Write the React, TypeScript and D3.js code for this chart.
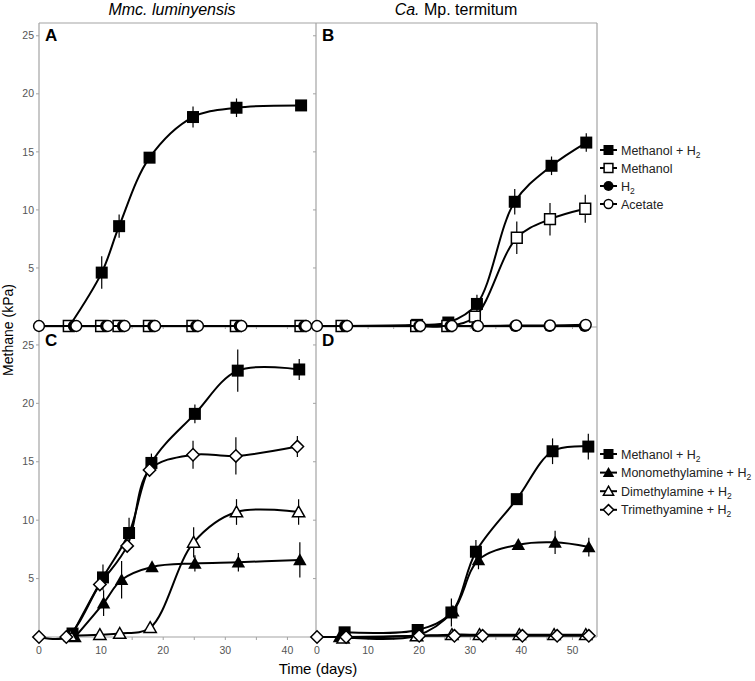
import React, { useEffect, useRef } from "react";
import * as d3 from "d3";

// ---- Panel A: Mmc. luminyensis (methanol / H2 / acetate) ----
const aMethH2Days = [4.9, 10.1, 12.9, 17.8, 24.8, 31.8, 42.2];
const aMethH2 = [0, 4.6, 8.6, 14.5, 18.0, 18.8, 19.0];
const aMethH2Err = [0, 1.4, 1.0, 0.3, 0.9, 0.8, 0.2];
const aMethDays = [4.8, 10.0, 12.8, 17.7, 24.7, 31.7, 42.1];
const aMeth = [0, 0, 0, 0, 0, 0, 0];
const aH2Days = [5.6, 10.8, 13.5, 18.4, 25.3, 32.3, 42.7];
const aH2 = [0, 0, 0, 0, 0, 0, 0];
const aAcetDays = [0, 6.0, 11.1, 13.8, 18.7, 25.6, 32.6, 43.0];
const aAcet = [0, 0, 0, 0, 0, 0, 0, 0];

// ---- Panel B: Ca. Mp. termitum (methanol / H2 / acetate) ----
const bMethH2Days = [5.0, 19.6, 25.7, 31.3, 38.7, 45.9, 52.7];
const bMethH2 = [0, 0.1, 0.3, 1.9, 10.7, 13.8, 15.8];
const bMethH2Err = [0, 0, 0, 0.8, 1.1, 0.8, 0.8];
const bMethDays = [4.8, 19.4, 25.5, 30.9, 39.1, 45.6, 52.5];
const bMeth = [0, 0, 0, 0.8, 7.6, 9.2, 10.1];
const bMethErr = [0, 0, 0, 0.2, 1.4, 1.4, 1.2];
const bH2Days = [5.5, 20.0, 26.1, 31.3, 38.8, 45.5, 52.4];
const bH2 = [0, 0, 0, 0, 0, 0, 0];
const bAcetDays = [0, 5.9, 20.2, 26.4, 31.5, 39.0, 45.6, 52.6];
const bAcet = [0, 0, 0, 0, 0, 0.05, 0.05, 0.1];

// ---- Panel C: Mmc. luminyensis (methylamines) ----
const cMethH2Days = [5.4, 10.3, 14.5, 18.1, 25.1, 32.0, 41.9];
const cMethH2 = [0.3, 5.1, 8.9, 14.9, 19.1, 22.8, 22.9];
const cMethH2Err = [0, 1.1, 1.3, 0.8, 0.8, 1.8, 0.9];
const cMonoDays = [5.8, 10.4, 13.3, 18.2, 25.1, 32.1, 42.0];
const cMono = [0, 2.9, 4.9, 6.0, 6.3, 6.4, 6.6];
const cMonoErr = [0, 1.1, 1.6, 0.4, 0.7, 0.8, 1.5];
const cDiDays = [5.1, 9.8, 13.0, 17.9, 24.9, 31.8, 41.8];
const cDi = [0.1, 0.2, 0.3, 0.8, 8.1, 10.7, 10.7];
const cDiErr = [0, 0, 0, 0, 1.3, 1.1, 1.1];
const cTriDays = [0, 4.4, 9.8, 14.2, 17.8, 24.8, 31.7, 41.6];
const cTri = [0, 0, 4.5, 7.8, 14.3, 15.6, 15.5, 16.3];
const cTriErr = [0, 0, 0.3, 0.3, 0.3, 1.2, 1.6, 0.9];

// ---- Panel D: Ca. Mp. termitum (methylamines) ----
const dMethH2Days = [5.4, 19.7, 26.3, 31.1, 39.1, 46.1, 53.1];
const dMethH2 = [0.4, 0.6, 2.1, 7.3, 11.8, 15.9, 16.3];
const dMethH2Err = [0, 0, 1.2, 1.0, 0.4, 1.1, 1.1];
const dMonoDays = [4.4, 19.4, 26.6, 31.6, 39.4, 46.6, 53.2];
const dMono = [0, 0.1, 2.2, 6.6, 7.9, 8.1, 7.7];
const dMonoErr = [0, 0, 0.3, 0.8, 0.3, 1.0, 0.8];
const dDiDays = [5.1, 19.5, 26.4, 31.8, 39.6, 46.4, 52.6];
const dDi = [-0.1, 0.1, 0.2, 0.2, 0.2, 0.2, 0.2];
const dTriDays = [0, 5.7, 20.0, 26.9, 32.4, 40.2, 47.0, 53.2];
const dTri = [0, 0, 0.1, 0.1, 0.1, 0.1, 0.1, 0.1];

const yTicks = [5, 10, 15, 20, 25];
const xTicksLeft = [0, 10, 20, 30, 40];
const xTicksRight = [0, 10, 20, 30, 40, 50];

const legendTop = [
  { label: "Methanol", sub: "H", marker: "sqFill", plus: true },
  { label: "Methanol", sub: null, marker: "sqOpen", plus: false },
  { label: "", sub: "H", marker: "circFill", plus: false },
  { label: "Acetate", sub: null, marker: "circOpen", plus: false },
];
const legendBottom = [
  { label: "Methanol", sub: "H", marker: "sqFill", plus: true },
  { label: "Monomethylamine", sub: "H", marker: "triFill", plus: true },
  { label: "Dimethylamine", sub: "H", marker: "triOpen", plus: true },
  { label: "Trimethyamine", sub: "H", marker: "diaOpen", plus: true },
];

const W = 755;
const H = 681;
const GRAY = "#a3a3a3";
const FONT = "Liberation Sans, Arial, sans-serif";

type Series = { days: number[]; values: number[]; err?: number[]; marker: string };

const drawMarker = (g: any, type: string, x: number, y: number, s: number) => {
  const open = type.endsWith("Open");
  const fill = open ? "white" : "black";
  const sw = open ? 1.5 : 0;
  const h = open ? s / 2 - 0.6 : s / 2;
  let d = "";
  if (type.startsWith("sq")) d = `M${-h},${-h}H${h}V${h}H${-h}Z`;
  else if (type.startsWith("dia")) d = `M0,${-h - 0.8}L${h + 0.8},0L0,${h + 0.8}L${-h - 0.8},0Z`;
  else if (type.startsWith("tri")) {
    const r = h + 0.6;
    d = `M0,${-r}L${r * 1.02},${r * 0.8}L${-r * 1.02},${r * 0.8}Z`;
  }
  if (type.startsWith("circ")) {
    g.append("circle")
      .attr("cx", x)
      .attr("cy", y)
      .attr("r", h)
      .attr("fill", fill)
      .attr("stroke", "black")
      .attr("stroke-width", sw);
  } else {
    g.append("path")
      .attr("transform", `translate(${x},${y})`)
      .attr("d", d)
      .attr("fill", fill)
      .attr("stroke", "black")
      .attr("stroke-width", sw)
      .attr("stroke-linejoin", "miter");
  }
};

const App = () => {
  const svgRef = useRef<SVGSVGElement>(null);

  useEffect(() => {
    if (!svgRef.current) return;
    const svg = d3.select(svgRef.current);
    svg.selectAll("*").remove();

    const xLeft = d3.scaleLinear().domain([0, 44.6]).range([39, 316]);
    const xRight = d3.scaleLinear().domain([-0.2, 54.8]).range([316, 597]);
    const yTop = d3.scaleLinear().domain([0, 26.1]).range([326, 23]);
    const yBottom = d3.scaleLinear().domain([0, 26.45]).range([637, 328]);

    const panels = [
      {
        letter: "A", x: xLeft, y: yTop, xTicks: xTicksLeft, labels: false,
        series: [
          { days: aMethH2Days, values: aMethH2, err: aMethH2Err, marker: "sqFill" },
          { days: aMethDays, values: aMeth, marker: "sqOpen" },
          { days: aH2Days, values: aH2, marker: "circFill" },
          { days: aAcetDays, values: aAcet, marker: "circOpen" },
        ] as Series[],
      },
      {
        letter: "B", x: xRight, y: yTop, xTicks: xTicksRight, labels: false,
        series: [
          { days: bMethH2Days, values: bMethH2, err: bMethH2Err, marker: "sqFill" },
          { days: bMethDays, values: bMeth, err: bMethErr, marker: "sqOpen" },
          { days: bH2Days, values: bH2, marker: "circFill" },
          { days: bAcetDays, values: bAcet, marker: "circOpen" },
        ] as Series[],
      },
      {
        letter: "C", x: xLeft, y: yBottom, xTicks: xTicksLeft, labels: true,
        series: [
          { days: cMethH2Days, values: cMethH2, err: cMethH2Err, marker: "sqFill" },
          { days: cMonoDays, values: cMono, err: cMonoErr, marker: "triFill" },
          { days: cDiDays, values: cDi, err: cDiErr, marker: "triOpen" },
          { days: cTriDays, values: cTri, err: cTriErr, marker: "diaOpen" },
        ] as Series[],
      },
      {
        letter: "D", x: xRight, y: yBottom, xTicks: xTicksRight, labels: true,
        series: [
          { days: dMethH2Days, values: dMethH2, err: dMethH2Err, marker: "sqFill" },
          { days: dMonoDays, values: dMono, err: dMonoErr, marker: "triFill" },
          { days: dDiDays, values: dDi, marker: "triOpen" },
          { days: dTriDays, values: dTri, marker: "diaOpen" },
        ] as Series[],
      },
    ];

    // frame lines
    const frame = svg.append("g").attr("stroke", GRAY).attr("stroke-width", 1.2);
    frame.append("line").attr("x1", 39).attr("x2", 597).attr("y1", 23).attr("y2", 23);
    frame.append("line").attr("x1", 39).attr("x2", 597).attr("y1", 327).attr("y2", 327);
    frame.append("line").attr("x1", 39).attr("x2", 597).attr("y1", 637).attr("y2", 637);
    [39, 316, 597].forEach((x) =>
      frame.append("line").attr("x1", x).attr("x2", x).attr("y1", 23).attr("y2", 637),
    );

    panels.forEach((p) => {
      const g = svg.append("g");
      const [px0] = p.x.range();
      const [py0] = p.y.range();

      // y ticks
      yTicks.forEach((t) => {
        g.append("line")
          .attr("x1", px0 - 3)
          .attr("x2", px0)
          .attr("y1", p.y(t))
          .attr("y2", p.y(t))
          .attr("stroke", GRAY);
        if (px0 < 100) {
          g.append("text")
            .attr("x", px0 - 5)
            .attr("y", p.y(t))
            .attr("dy", "0.35em")
            .attr("text-anchor", "end")
            .style("font-family", FONT)
            .style("font-size", "10.5px")
            .style("fill", "#555")
            .text(t);
        }
      });

      // x ticks every 5 days
      d3.range(0, p.x.domain()[1], 5).forEach((t) => {
        g.append("line")
          .attr("x1", p.x(t))
          .attr("x2", p.x(t))
          .attr("y1", py0)
          .attr("y2", py0 + 3)
          .attr("stroke", GRAY);
      });
      if (p.labels) {
        p.xTicks.forEach((t) => {
          g.append("text")
            .attr("x", p.x(t))
            .attr("y", py0 + 17)
            .attr("text-anchor", "middle")
            .style("font-family", FONT)
            .style("font-size", "10.5px")
            .style("fill", "#555")
            .text(t);
        });
      }

      // panel letter
      g.append("text")
        .attr("x", px0 + 6)
        .attr("y", p.y.range()[1] + 18)
        .style("font-family", FONT)
        .style("font-size", "17px")
        .style("font-weight", "bold")
        .text(p.letter);

      // series
      p.series.forEach((s) => {
        const pts = s.days.map((d, i) => ({ d, v: s.values[i], e: s.err ? s.err[i] : 0 }));
        const line = d3
          .line<{ d: number; v: number }>()
          .x((d) => p.x(d.d))
          .y((d) => p.y(d.v))
          .curve(d3.curveCatmullRom.alpha(0.5));
        g.append("path")
          .datum(pts)
          .attr("fill", "none")
          .attr("stroke", "black")
          .attr("stroke-width", 2)
          .attr("d", line);
        pts.forEach((pt) => {
          if (pt.e > 0) {
            g.append("line")
              .attr("x1", p.x(pt.d))
              .attr("x2", p.x(pt.d))
              .attr("y1", p.y(pt.v - pt.e))
              .attr("y2", p.y(pt.v + pt.e))
              .attr("stroke", "black")
              .attr("stroke-width", 1.2);
          }
        });
        pts.forEach((pt) => drawMarker(g, s.marker, p.x(pt.d), p.y(pt.v), 12));
      });
    });

    // legends
    const drawLegend = (items: typeof legendTop, y0: number, step: number) => {
      items.forEach((it, i) => {
        const y = y0 + i * step;
        const g = svg.append("g");
        g.append("line")
          .attr("x1", 600)
          .attr("x2", 617)
          .attr("y1", y)
          .attr("y2", y)
          .attr("stroke", "black")
          .attr("stroke-width", 2);
        drawMarker(g, it.marker, 608.5, y, 10);
        const t = g
          .append("text")
          .attr("x", 621)
          .attr("y", y + 4.5)
          .style("font-family", FONT)
          .style("font-size", "12.5px")
          .style("fill", "#222");
        if (it.label) t.append("tspan").text(it.label + (it.plus ? " + " : ""));
        if (it.sub) {
          t.append("tspan").text(it.sub);
          t.append("tspan").attr("dy", 3).style("font-size", "8.5px").text("2");
        }
      });
    };
    drawLegend(legendTop, 150, 18);
    drawLegend(legendBottom, 454, 18.6);

    // titles
    svg.append("text")
      .attr("x", 172)
      .attr("y", 15)
      .attr("text-anchor", "middle")
      .style("font-family", FONT)
      .style("font-size", "16px")
      .style("font-style", "italic")
      .text("Mmc. luminyensis");
    const t2 = svg.append("text")
      .attr("x", 456)
      .attr("y", 15)
      .attr("text-anchor", "middle")
      .style("font-family", FONT)
      .style("font-size", "16px");
    t2.append("tspan").style("font-style", "italic").text("Ca.");
    t2.append("tspan").text(" Mp. termitum");

    svg.append("text")
      .attr("transform", `translate(13,330) rotate(-90)`)
      .attr("text-anchor", "middle")
      .style("font-family", FONT)
      .style("font-size", "14px")
      .text("Methane (kPa)");

    svg.append("text")
      .attr("x", 318)
      .attr("y", 674)
      .attr("text-anchor", "middle")
      .style("font-family", FONT)
      .style("font-size", "15px")
      .text("Time (days)");
  }, []);

  return (
    <div>
      <svg
        ref={svgRef}
        width={W}
        height={H}
        style={{ position: "absolute", left: 0, top: 0, background: "white" }}
      ></svg>
    </div>
  );
};

export default App;
